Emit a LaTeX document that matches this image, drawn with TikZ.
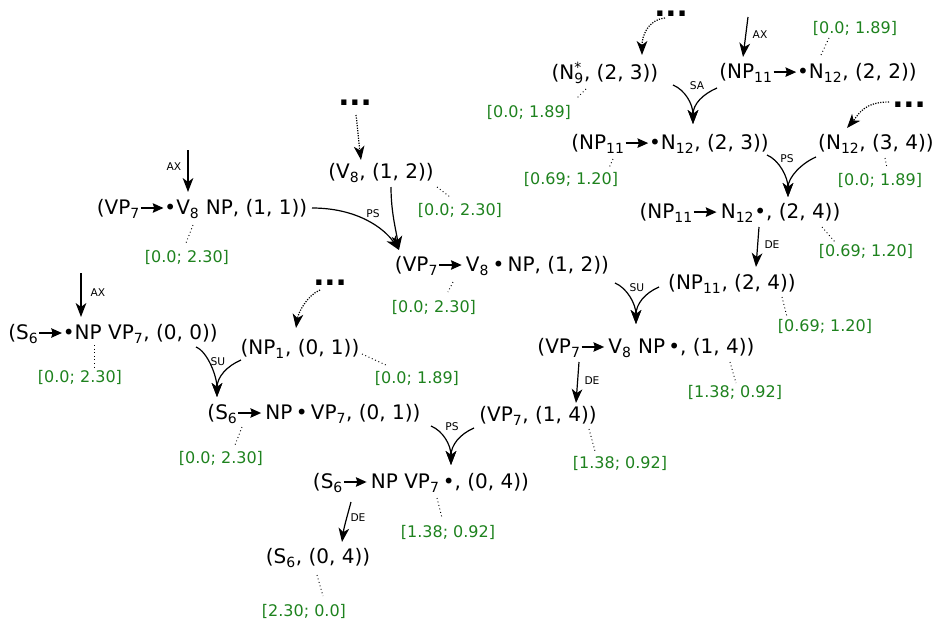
\documentclass[tikz,border=0pt]{standalone}
\usepackage{fontspec}
\setmainfont{DejaVu Sans}
\usetikzlibrary{arrows.meta}
\definecolor{valgreen}{RGB}{30,130,30}
% subscripts and the rule arrow inside items
\newcommand{\sbs}[1]{\textsubscript{#1}}
\newcommand{\rar}{\tikz[baseline=-0.33em]\draw[line width=1.4pt,-{Stealth[length=8pt,width=7pt,inset=1pt]}](0pt,0pt)--(17pt,0pt);}
\tikzset{
  item/.style={inner sep=0pt, font=\fontsize{15}{18}\selectfont},
  val/.style={inner sep=0pt, text=valgreen, font=\fontsize{12}{14}\selectfont},
  rulelbl/.style={inner sep=0pt, font=\fontsize{8}{9}\selectfont},
  more/.style={inner sep=0pt, anchor=base, text height=5pt, text depth=0pt,
    font=\fontsize{22}{24}\selectfont\bfseries},
  edge/.style={line width=0.9pt, -{Stealth[length=10.5pt,width=8pt,inset=3pt]}},
  feed/.style={edge, densely dotted},
  lead/.style={line width=0.7pt, dash pattern=on 0.7pt off 2pt},
}
\begin{document}
\begin{tikzpicture}[x=0.75pt,y=-0.75pt]
\useasboundingbox (0,0) rectangle (936,625);

% ---- items ----
\node[item] (n9)    at (605,73)  {(N\rlap{\textsuperscript{*}}\sbs{9}, (2, 3))};
\node[item] (np22)  at (818,73)  {(NP\sbs{11}\rar•N\sbs{12}, (2, 2))};
\node[item] (np23)  at (670,144) {(NP\sbs{11}\rar•N\sbs{12}, (2, 3))};
\node[item] (n34)   at (876,144) {(N\sbs{12}, (3, 4))};
\node[item] (np24)  at (740,213) {(NP\sbs{11}\rar\,N\sbs{12}•, (2, 4))};
\node[item] (np11)  at (732,284) {(NP\sbs{11}, (2, 4))};
\node[item] (vp14d) at (646,348) {(VP\sbs{7}\rar\,V\sbs{8} NP\,•, (1, 4))};
\node[item] (vp14)  at (538,416) {(VP\sbs{7}, (1, 4))};
\node[item] (s04d)  at (421,483) {(S\sbs{6}\rar\,NP VP\sbs{7}\,•, (0, 4))};
\node[item] (s04)   at (318,558) {(S\sbs{6}, (0, 4))};
\node[item] (v8)    at (381,173) {(V\sbs{8}, (1, 2))};
\node[item] (vp11)  at (202,209) {(VP\sbs{7}\rar•V\sbs{8} NP, (1, 1))};
\node[item] (vp12)  at (502,266) {(VP\sbs{7}\rar\,V\sbs{8}\,•\,NP, (1, 2))};
\node[item] (s00)   at (113,334) {(S\sbs{6}\rar•NP VP\sbs{7}, (0, 0))};
\node[item] (np1)   at (300,349) {(NP\sbs{1}, (0, 1))};
\node[item] (s01)   at (314,414) {(S\sbs{6}\rar\,NP\,•\,VP\sbs{7}, (0, 1))};

% ---- elided predecessors ----
\node[more] (d1) at (671,16)  {...};
\node[more] (d2) at (909,107) {...};
\node[more] (d3) at (355,105) {...};
\node[more] (d4) at (330,285) {...};

% ---- weights ----
\node[val] (gn9)    at (529,112) {[0.0; 1.89]};
\node[val] (gnp22)  at (855,28)  {[0.0; 1.89]};
\node[val] (gnp23)  at (571,179) {[0.69; 1.20]};
\node[val] (gn34)   at (880,180) {[0.0; 1.89]};
\node[val] (gnp24)  at (866,251) {[0.69; 1.20]};
\node[val] (gnp11)  at (825,326) {[0.69; 1.20]};
\node[val] (gvp14d) at (735,392) {[1.38; 0.92]};
\node[val] (gvp14)  at (620,463) {[1.38; 0.92]};
\node[val] (gs04d)  at (448,532) {[1.38; 0.92]};
\node[val] (gs04)   at (304,611) {[2.30; 0.0]};
\node[val] (gv8)    at (460,210) {[0.0; 2.30]};
\node[val] (gvp11)  at (187,257) {[0.0; 2.30]};
\node[val] (gvp12)  at (434,307) {[0.0; 2.30]};
\node[val] (gs00)   at (80,377)  {[0.0; 2.30]};
\node[val] (gnp1)   at (417,378) {[0.0; 1.89]};
\node[val] (gs01)   at (221,458) {[0.0; 2.30]};

% ---- weight leaders ----
\draw[lead] ([shift={(-19,16)}]n9.center)    -- ([shift={(48,-14)}]gn9.center);
\draw[lead] ([shift={(3,-18)}]np22.center)   -- ([shift={(-26,10)}]gnp22.center);
\draw[lead] ([shift={(-57,15)}]np23.center)  -- ([shift={(38,-11)}]gnp23.center);
\draw[lead] ([shift={(9,14)}]n34.center)     -- ([shift={(7,-12)}]gn34.center);
\draw[lead] ([shift={(82,14)}]np24.center)   -- ([shift={(-31,-9)}]gnp24.center);
\draw[lead] ([shift={(50,13)}]np11.center)   -- ([shift={(-38,-9)}]gnp11.center);
\draw[lead] ([shift={(84,14)}]vp14d.center)  -- ([shift={(1,-9)}]gvp14d.center);
\draw[lead] ([shift={(51,13)}]vp14.center)   -- ([shift={(-25,-12)}]gvp14.center);
\draw[lead] ([shift={(16,15)}]s04d.center)   -- ([shift={(-6,-14)}]gs04d.center);
\draw[lead] ([shift={(-1,17)}]s04.center)    -- ([shift={(19,-15)}]gs04.center);
\draw[lead] ([shift={(56,14)}]v8.center)     -- ([shift={(-10,-13)}]gv8.center);
\draw[lead] ([shift={(-9,16)}]vp11.center)   -- ([shift={(-1,-14)}]gvp11.center);
\draw[lead] ([shift={(-49,16)}]vp12.center)  -- ([shift={(14,-15)}]gvp12.center);
\draw[lead] ([shift={(-19,11)}]s00.center)   -- ([shift={(14,-10)}]gs00.center);
\draw[lead] ([shift={(62,5)}]np1.center)     -- ([shift={(-29,-12)}]gnp1.center);
\draw[lead] ([shift={(-72,13)}]s01.center)   -- ([shift={(14,-13)}]gs01.center);

% ---- axiom arrows ----
\coordinate (ax1) at (748,17);
\coordinate (ax2) at (188,150);
\coordinate (ax3) at (81,273);
\draw[edge] (ax1) -- ([shift={(-75,-16)}]np22.center);
\draw[edge] (ax2) -- ([shift={(-14,-17)}]vp11.center);
\draw[edge] (ax3) -- ([shift={(-32,-17)}]s00.center);
\node[rulelbl] (lax1) at (760,35)  {AX};
\node[rulelbl] (lax2) at (174,167) {AX};
\node[rulelbl] (lax3) at (98,293)  {AX};

% ---- arrows from elided predecessors ----
\draw[feed] ([shift={(-6,2)}]d1.base) .. controls +(-18,2) and +(0,-18) .. ([shift={(37,-18)}]n9.center);
\draw[feed] ([shift={(-20,-5)}]d2.base) .. controls +(-25,0) and +(12,-14) .. ([shift={(-29,-16)}]n34.center);
\draw[feed] ([shift={(1,10)}]d3.base) .. controls +(2,15) and +(-2,-15) .. ([shift={(-20,-13)}]v8.center);
\draw[feed] ([shift={(-10,5)}]d4.base) .. controls +(-14,6) and +(2,-14) .. ([shift={(-4,-21)}]np1.center);

% ---- SA ----
\coordinate (tSA) at ([shift={(23,-20)}]np23.center);
\draw[edge] ([shift={(68,12)}]n9.center) .. controls +(12,5) and +(0,-20) .. (tSA);
\draw[edge] ([shift={(-101,15)}]np22.center) .. controls +(-14,6) and +(0,-20) .. (tSA);
\node[rulelbl] (lsa) at (697,86) {SA};

% ---- PS (top right) ----
\coordinate (tPS1) at ([shift={(48,-16)}]np24.center);
\draw[edge] ([shift={(97,11)}]np23.center) .. controls +(12,5) and +(0,-20) .. (tPS1);
\draw[edge] ([shift={(-60,13)}]n34.center) .. controls +(-14,6) and +(0,-20) .. (tPS1);
\node[rulelbl] (lps1) at (787,159) {PS};

% ---- DE (NP11) ----
\draw[edge] ([shift={(19,14)}]np24.center) -- ([shift={(24,-17)}]np11.center);
\node[rulelbl] (lde1) at (772,245) {DE};

% ---- PS (VP7 -> V8) ----
\coordinate (tPS3) at ([shift={(-103,-16)}]vp12.center);
\draw[edge] ([shift={(110,-1)}]vp11.center) .. controls +(45,0) and +(-15,-22) .. (tPS3);
\draw[edge] ([shift={(10,14)}]v8.center) .. controls +(0,25) and +(-3,-20) .. (tPS3);
\node[rulelbl] (lps3) at (373,214) {PS};

% ---- SU (VP7) ----
\coordinate (tSU1) at ([shift={(-10,-24)}]vp14d.center);
\draw[edge] ([shift={(113,17)}]vp12.center) .. controls +(12,5) and +(0,-20) .. (tSU1);
\draw[edge] ([shift={(-73,3)}]np11.center) .. controls +(-14,6) and +(0,-20) .. (tSU1);
\node[rulelbl] (lsu1) at (637,288) {SU};

% ---- DE (VP7) ----
\draw[edge] ([shift={(-67,14)}]vp14d.center) -- ([shift={(38,-13)}]vp14.center);
\node[rulelbl] (lde2) at (592,381) {DE};

% ---- SU (S6) ----
\coordinate (tSU2) at ([shift={(-97,-17)}]s01.center);
\draw[edge] ([shift={(83,13)}]s00.center) .. controls +(12,5) and +(0,-20) .. (tSU2);
\draw[edge] ([shift={(-59,11)}]np1.center) .. controls +(-14,6) and +(0,-20) .. (tSU2);
\node[rulelbl] (lsu2) at (218,362) {SU};

% ---- PS (S6) ----
\coordinate (tPS2) at ([shift={(30,-18)}]s04d.center);
\draw[edge] ([shift={(117,12)}]s01.center) .. controls +(12,5) and +(0,-20) .. (tPS2);
\draw[edge] ([shift={(-64,12)}]vp14.center) .. controls +(-14,6) and +(0,-20) .. (tPS2);
\node[rulelbl] (lps2) at (452,427) {PS};

% ---- DE (S6) ----
\draw[edge] ([shift={(-70,19)}]s04d.center) .. controls +(-4,15) and +(2,-15) .. ([shift={(24,-16)}]s04.center);
\node[rulelbl] (lde3) at (358,518) {DE};
\end{tikzpicture}
\end{document}
